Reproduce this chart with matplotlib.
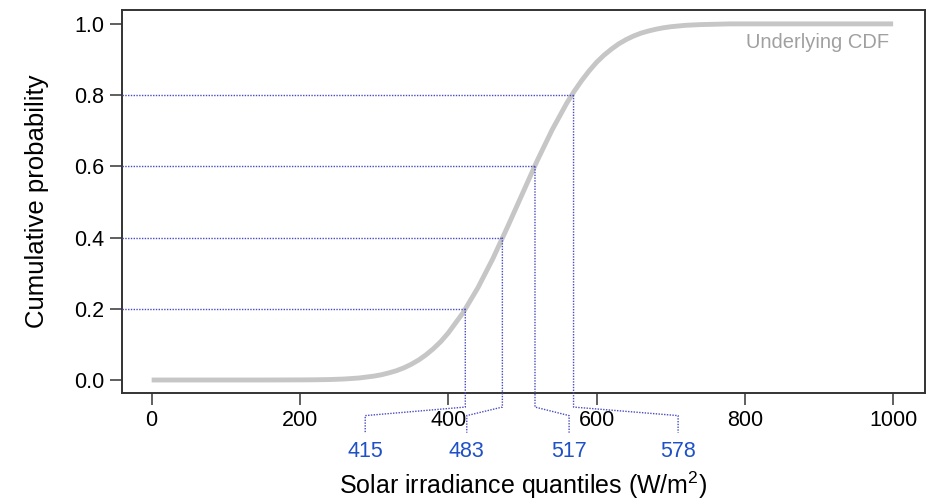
import matplotlib
matplotlib.use("Agg")
import matplotlib.pyplot as plt
from matplotlib.ticker import FormatStrFormatter

# ---- data ----
cdf_x = [0, 50, 100, 150, 200, 220, 240, 260, 280, 300, 310, 320, 330, 340, 350,
         360, 370, 380, 390, 400, 420, 440, 460, 480, 500, 520, 540, 560, 570,
         580, 590, 600, 610, 620, 630, 640, 650, 660, 670, 680, 690, 700, 710,
         720, 740, 760, 780, 800, 850, 900, 950, 1000]
cdf_y = [0.000, 0.000, 0.000, 0.000, 0.0003, 0.0006, 0.0013, 0.0028, 0.0057, 0.011,
         0.0148, 0.020, 0.026, 0.034, 0.044, 0.056, 0.0707, 0.088, 0.108, 0.132,
         0.189, 0.259, 0.340, 0.430, 0.523, 0.616, 0.702, 0.778, 0.811, 0.841,
         0.868, 0.892, 0.912, 0.929, 0.944, 0.956, 0.966, 0.974, 0.980, 0.985,
         0.989, 0.992, 0.994, 0.996, 0.998, 0.999, 1.000, 1.000, 1.000, 1.000,
         1.000, 1.000]
quant_probs = [0.2, 0.4, 0.6, 0.8]
quant_x = [423, 473, 517, 569]
quant_labels = ["415", "483", "517", "578"]
x_ticks = [0, 200, 400, 600, 800, 1000]
y_ticks = [0.0, 0.2, 0.4, 0.6, 0.8, 1.0]

plt.rcParams['font.family'] = ['Liberation Sans', 'DejaVu Sans']
plt.rcParams['mathtext.fontset'] = 'custom'
plt.rcParams['mathtext.rm'] = 'Liberation Sans'
plt.rcParams['mathtext.default'] = 'rm'

W, H = 944, 499
fig = plt.figure(figsize=(W / 100, H / 100), dpi=100)
ax = fig.add_axes([122 / W, 1 - 393 / H, (925 - 122) / W, (393 - 10) / H])

xmin, xmax = -40, 1043
ax.set_xlim(xmin, xmax)
ax.set_ylim(-0.0365, 1.039)

ax.plot(cdf_x, cdf_y, color='#c6c6c6', lw=3.5, solid_capstyle='butt',
        solid_joinstyle='round', zorder=3)

line_col = '#4a4ac4'
lab_col = '#1f50c8'
label_x = [288, 425, 563, 710]   # layout positions of the quantile labels
y_b1, y_b2, y_b3, y_lab = -0.076, -0.100, -0.148, -0.200
for p, qx, lx, lab in zip(quant_probs, quant_x, label_x, quant_labels):
    ax.plot([xmin, qx], [p, p], color=line_col, lw=1.0, ls=(0, (1, 1)), zorder=4)
    ax.plot([qx, qx, lx, lx], [p, y_b1, y_b2, y_b3], color=line_col, lw=1.0,
            ls=(0, (1, 1)), clip_on=False, zorder=4)
    ax.text(lx, y_lab, lab, color=lab_col, fontsize=15.5, ha='center', va='center',
            clip_on=False)

ax.text(995, 0.933, "Underlying CDF", color='#a0a0a0', fontsize=14.5,
        ha='right', va='baseline')

ax.set_xticks(x_ticks)
ax.set_yticks(y_ticks)
ax.yaxis.set_major_formatter(FormatStrFormatter('%.1f'))
ax.tick_params(axis='both', direction='out', length=8.6, width=1.2, color='#444444',
               labelsize=15.5, pad=4)

for s in ax.spines.values():
    s.set_color('#333333')
    s.set_linewidth(1.4)

ax.set_xlabel("Solar irradiance quantiles (W/m$^{2}$)", fontsize=18)
ax.xaxis.label.set_va('center')
ax.xaxis.set_label_coords(0.5, (393 - 485) / 383)
ax.set_ylabel("Cumulative probability", fontsize=18.5)
ax.yaxis.label.set_va('center')
ax.yaxis.set_label_coords((37 - 122) / 803, 0.5)

fig.savefig("out.png", dpi=100)
